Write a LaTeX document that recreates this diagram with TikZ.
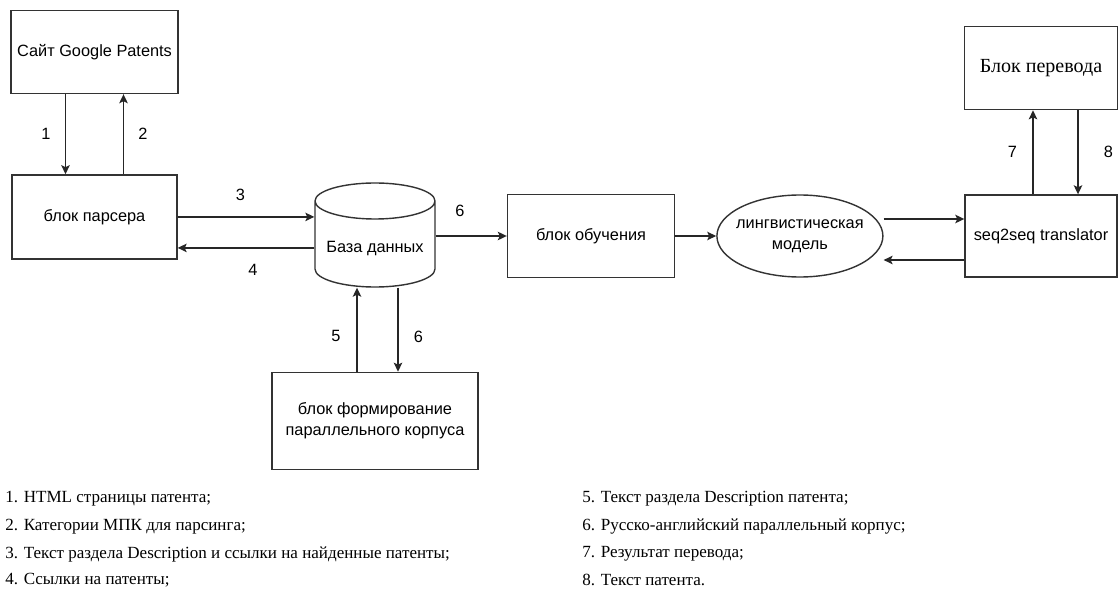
\documentclass[tikz,border=0pt]{standalone}
\usepackage{fontspec}
\setmainfont{Liberation Sans}
\newfontfamily\serifru{Liberation Serif}
\usetikzlibrary{shapes.geometric, arrows.meta, positioning, calc}

\begin{document}
\begin{tikzpicture}[
  box/.style={rectangle, draw=black!80, line width=0.8pt, minimum width=3.3cm, minimum height=1.66cm, align=center, font=\fontsize{9.3}{12}\selectfont},
  dbase/.style={cylinder, shape border rotate=90, aspect=0.33, draw=black!80, line width=0.8pt, minimum width=2.4cm, minimum height=2.08cm, align=center, font=\fontsize{9.3}{12}\selectfont},
  model/.style={ellipse, draw=black!80, line width=0.8pt, minimum width=3.32cm, minimum height=1.64cm, inner xsep=-0.25cm, inner ysep=0pt, align=center, font=\fontsize{9.3}{12}\selectfont},
  arrow/.style={-{Stealth[length=0.18cm, width=0.17cm, inset=0.04cm]}, line width=0.8pt, draw=black!85},
  num/.style={font=\fontsize{9.3}{11}\selectfont, inner sep=1pt},
  legend/.style={anchor=west, inner sep=0pt, font=\serifru\fontsize{9.7}{11}\selectfont}
]
\useasboundingbox (0,0) rectangle (22.36,-11.78);

% Nodes
\node[box] (site) at (1.89,-1.04) {Сайт Google Patents};
\node[box, minimum height=1.68cm, below=1.6cm of site] (parser) {блок парсера};
\node[dbase, anchor=shape center] (db) at (7.5,-4.7) {База данных};
\node[box, minimum width=3.34cm] (learn) at (11.82,-4.72) {блок обучения};
\node[model, right=0.82cm of learn] (lingmodel) {лингвистическая\\модель};
\node[box, minimum width=3.04cm, minimum height=1.64cm] (seq) at (20.82,-4.72) {seq2seq translator};
\node[box, minimum width=3.06cm, font=\serifru\fontsize{11.4}{13}\selectfont, above=1.68cm of seq] (transl) {Блок перевода};
\node[box, minimum width=4.12cm, minimum height=1.94cm, below=1.68cm of db] (corpus) {блок формирование\\параллельного корпуса};

% Arrows
\draw[arrow] ([xshift=-0.58cm]site.south) -- node[num, left=0.25cm] {1} ([xshift=-0.58cm]parser.north);
\draw[arrow] ([xshift=0.58cm]parser.north) -- node[num, right=0.25cm] {2} ([xshift=0.58cm]site.south);
\draw[arrow] (parser.east) -- node[num, above=0.27cm, pos=0.46] {3} (parser.east -| db.west);
\draw[arrow] ([yshift=-0.62cm]parser.east -| db.west) -- node[num, below=0.28cm, pos=0.45] {4} ([yshift=-0.62cm]parser.east);
\draw[arrow] (db.east |- learn.west) -- node[num, above=0.34cm, pos=0.34] {6} (learn.west);
\draw[arrow] (learn.east) -- (lingmodel.west);
\draw[arrow] ([yshift=0.34cm]lingmodel.east) -- ([yshift=0.34cm]lingmodel.east -| seq.west);
\draw[arrow] ([yshift=-0.48cm]lingmodel.east -| seq.west) -- ([yshift=-0.48cm]lingmodel.east);
\draw[arrow] ([xshift=-0.16cm]seq.north) -- node[num, left=0.27cm] {7} ([xshift=-0.16cm]transl.south);
\draw[arrow] ([xshift=0.74cm]transl.south) -- node[num, right=0.47cm] {8} ([xshift=0.74cm]seq.north);
\draw[arrow] ([xshift=-0.36cm]corpus.north) -- node[num, left=0.28cm, pos=0.42] {5} ([xshift=-0.36cm]corpus.north |- db.south);
\draw[arrow] ([xshift=0.46cm]corpus.north |- db.south) -- node[num, right=0.27cm, pos=0.58] {6} ([xshift=0.46cm]corpus.north);

% Legend
\node[legend] (leg1) at (0.1,-9.98) {1. HTML страницы патента;};
\node[legend] (leg2) at (0.1,-10.53) {2. Категории МПК для парсинга;};
\node[legend] (leg3) at (0.1,-11.08) {3. Текст раздела Description и ссылки на найденные патенты;};
\node[legend] (leg4) at (0.1,-11.6) {4. Ссылки на патенты;};
\node[legend] (leg5) at (11.64,-9.98) {5. Текст раздела Description патента;};
\node[legend] (leg6) at (11.64,-10.53) {6. Русско-английский параллельный корпус;};
\node[legend] (leg7) at (11.64,-11.08) {7. Результат перевода;};
\node[legend] (leg8) at (11.64,-11.6) {8. Текст патента.};

\end{tikzpicture}
\end{document}
